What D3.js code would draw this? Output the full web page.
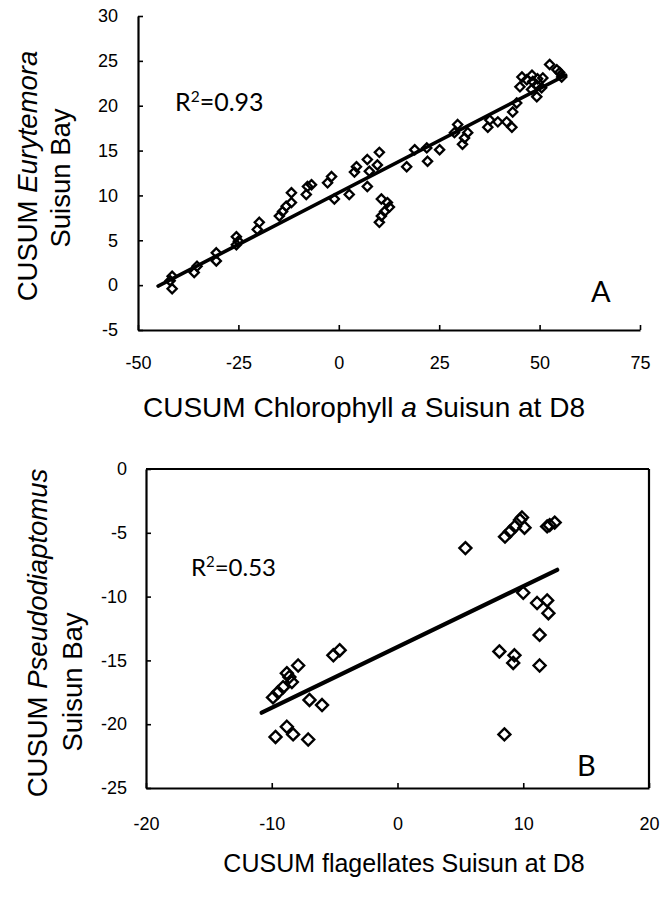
<!DOCTYPE html>
<html>
<head>
<meta charset="utf-8">
<script src="https://cdn.jsdelivr.net/npm/d3@7/dist/d3.min.js"></script>
<style>
  html, body { margin: 0; padding: 0; background: #fff; }
  svg { display: block; }
</style>
</head>
<body>
<svg id="chart" width="665" height="897"></svg>
<script>
// ---- Panel A data: CUSUM Chlorophyll a (x) vs CUSUM Eurytemora (y)
const chlA = [-41.5,-41.5,-42,-36,-35.3,-30.5,-30.5,-25.5,-25.5,-25,-20.3,-19.8,-14.8,-14,-13.1,-11.8,-11.8,-8.1,-7.8,-6.8,-2.8,-1.8,-1.1,2.6,3.9,4.4,7.1,7.6,7.1,10.1,9.6,10.6,12.1,11.4,10.6,10.1,12.6,16.9,18.9,21.9,22.1,25.1,29.6,28.8,32.1,31.3,30.8,37.1,37.6,39.6,41.8,43.1,43.3,44.3,45.1,45.6,46.8,48.1,48.3,49.3,49.3,50.8,52.5,54.3,55,55.5,49.5,50.5,48];
const eurytemora = [-0.4,1.0,0.5,1.4,2.1,2.7,3.6,4.5,5.4,4.9,6.2,7.0,7.7,8.2,8.8,9.2,10.3,10.1,11.0,11.2,11.4,12.1,9.6,10.1,12.6,13.2,14.0,12.7,11.0,14.8,13.4,9.6,9.2,8.2,7.7,7.0,8.7,13.2,15.1,15.3,13.8,15.1,17.9,17.0,17.0,16.4,15.7,17.6,18.4,18.2,18.2,17.6,19.3,20.3,22.1,23.2,22.9,23.4,22.7,22.3,21.0,23.1,24.6,24.0,23.7,23.2,23.0,22.0,21.8];
const trendA_x = [-45, 56.5];
const trendA_y = [-0.1, 23.4];
const r2A = "0.93";
const xTicksA = [-50,-25,0,25,50,75];
const yTicksA = [-5,0,5,10,15,20,25,30];

// ---- Panel B data: CUSUM flagellates (x) vs CUSUM Pseudodiaptomus (y)
const flag = [-9.9,-9.5,-9.1,-8.8,-8.4,-8.6,-7.9,-5.1,-4.6,-7.0,-6.0,-9.7,-8.8,-8.3,-7.1,5.4,8.55,8.95,9.34,9.74,9.9,10.1,11.9,12.1,12.5,10.0,11.1,11.9,12.0,11.3,8.1,9.3,9.2,11.3,8.5];
const pseudo = [-17.9,-17.5,-17.1,-16.0,-16.7,-16.3,-15.4,-14.6,-14.2,-18.1,-18.5,-21.0,-20.2,-20.8,-21.2,-6.2,-5.3,-4.9,-4.5,-4.0,-3.8,-4.6,-4.5,-4.4,-4.2,-9.7,-10.5,-10.3,-11.3,-13.0,-14.3,-14.6,-15.2,-15.4,-20.8];
const trendB_x = [-10.8, 12.7];
const trendB_y = [-19.1, -7.9];
const r2B = "0.53";
const xTicksB = [-20,-10,0,10,20];
const yTicksB = [-25,-20,-15,-10,-5,0];

const svg = d3.select("#chart");
svg.append("rect").attr("width",665).attr("height",897).attr("fill","#fff");

const axisFont = "'Liberation Sans', Arial, sans-serif";
const annFont = "Lato, 'Open Sans', sans-serif";

function diamond(r) {
  return `M0,${-r}L${r},0L0,${r}L${-r},0Z`;
}

function panel(opts) {
  const g = svg.append("g");
  const x = d3.scaleLinear().domain(opts.xDomain).range(opts.xRange);
  const y = d3.scaleLinear().domain(opts.yDomain).range(opts.yRange);
  const fmt = d => String(d);

  const xAxis = d3.axisBottom(x).tickValues(opts.xTicks).tickSizeInner(-5).tickSizeOuter(0).tickPadding(opts.xPad).tickFormat(fmt);
  const yAxis = d3.axisLeft(y).tickValues(opts.yTicks).tickSizeInner(-5).tickSizeOuter(0).tickPadding(opts.yPad).tickFormat(fmt);

  const gx = g.append("g").attr("transform", `translate(0,${opts.yRange[0]})`).call(xAxis);
  const gy = g.append("g").attr("transform", `translate(${opts.xRange[0]},0)`).call(yAxis);
  [gx, gy].forEach(a => {
    a.select(".domain").attr("stroke","#000").attr("stroke-width",2.2);
    a.selectAll(".tick line").attr("stroke","#000").attr("stroke-width",1.6);
    a.selectAll(".tick text").attr("fill","#000").style("font-family",axisFont).style("font-size","18px");
  });
  gx.selectAll(".tick text").attr("dy","0.71em");

  if (opts.box) {
    g.append("line").attr("x1",opts.xRange[0]).attr("x2",opts.xRange[1]).attr("y1",opts.yRange[1]).attr("y2",opts.yRange[1]).attr("stroke","#000").attr("stroke-width",2.2);
    g.append("line").attr("x1",opts.xRange[1]).attr("x2",opts.xRange[1]).attr("y1",opts.yRange[0]).attr("y2",opts.yRange[1]).attr("stroke","#000").attr("stroke-width",2.2);
  }

  // markers
  g.append("g").selectAll("path").data(opts.xs.map((v,i)=>[v,opts.ys[i]])).join("path")
    .attr("d", diamond(opts.r))
    .attr("transform", d => `translate(${x(d[0])},${y(d[1])})`)
    .attr("fill","none").attr("stroke","#000").attr("stroke-width",opts.mw);

  // trendline
  g.append("line")
    .attr("x1", x(opts.tx[0])).attr("y1", y(opts.ty[0]))
    .attr("x2", x(opts.tx[1])).attr("y2", y(opts.ty[1]))
    .attr("stroke","#000").attr("stroke-width",opts.lw).attr("stroke-linecap","round");

  // R2 text
  const t = g.append("text").attr("x",opts.r2pos[0]).attr("y",opts.r2pos[1])
    .style("font-family",annFont).style("font-size",opts.r2size+"px").attr("fill","#000");
  t.append("tspan").text("R");
  t.append("tspan").text("2").attr("dy",-opts.r2size*0.38).style("font-size",(opts.r2size*0.62)+"px");
  t.append("tspan").text("=" + opts.r2).attr("dy",opts.r2size*0.38);

  // panel letter
  g.append("text").attr("x",opts.letterPos[0]).attr("y",opts.letterPos[1])
    .style("font-family",annFont).style("font-size","29px").attr("fill","#000").text(opts.letter);

  // x title
  const xt = g.append("text").attr("x",opts.xTitlePos[0]).attr("y",opts.xTitlePos[1])
    .attr("text-anchor","middle").style("font-family",axisFont).style("font-size",opts.xTitleSize+"px").attr("fill","#000");
  opts.xTitle.forEach(p => { const s = xt.append("tspan").text(p[0]); if (p[1]) s.style("font-style","italic"); });

  // y title (two lines)
  opts.yTitle.forEach((line, li) => {
    const pos = opts.yTitlePos[li];
    const yt = g.append("text").attr("transform",`translate(${pos[0]},${pos[1]}) rotate(-90)`)
      .attr("text-anchor","middle").style("font-family",axisFont).style("font-size",opts.yTitleSize+"px").attr("fill","#000");
    line.forEach(p => { const s = yt.append("tspan").text(p[0]); if (p[1]) s.style("font-style","italic"); });
  });
}

panel({
  xDomain:[-50,75], xRange:[138,640], yDomain:[-5,30], yRange:[330,16],
  xTicks:xTicksA, yTicks:yTicksA, xPad:26, yPad:20,
  xs:chlA, ys:eurytemora, r:4.6, mw:2.3, tx:trendA_x, ty:trendA_y, lw:3.6,
  r2:r2A, r2pos:[175,111], r2size:25, letter:"A", letterPos:[591,302],
  xTitle:[["CUSUM Chlorophyll "],["a",true],[" Suisun at D8"]], xTitlePos:[364,417], xTitleSize:28,
  yTitle:[[["CUSUM "],["Eurytemora",true]],[["Suisun Bay"]]], yTitlePos:[[37,176],[70,178]], yTitleSize:27.5,
  box:false
});

panel({
  xDomain:[-20,20], xRange:[146,649], yDomain:[-25,0], yRange:[788,469],
  xTicks:xTicksB, yTicks:yTicksB, xPad:29, yPad:19,
  xs:flag, ys:pseudo, r:6, mw:2.4, tx:trendB_x, ty:trendB_y, lw:4.2,
  r2:r2B, r2pos:[191,576], r2size:24, letter:"B", letterPos:[577,776],
  xTitle:[["CUSUM flagellates Suisun at D8"]], xTitlePos:[404,872], xTitleSize:25,
  yTitle:[[["CUSUM "],["Pseudodiaptomus",true]],[["Suisun Bay"]]], yTitlePos:[[47,633],[82,682]], yTitleSize:27.5,
  box:true
});
</script>
</body>
</html>
